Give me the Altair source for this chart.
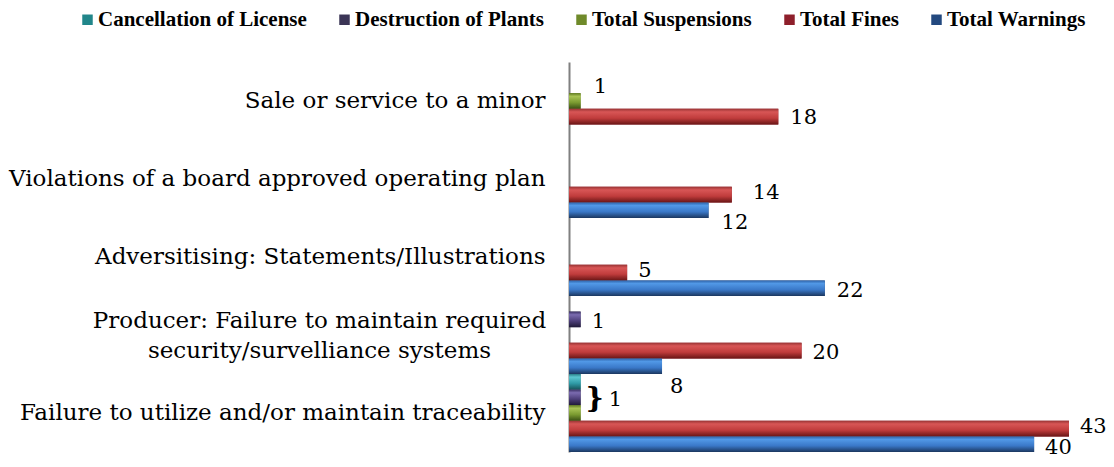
import altair as alt
import pandas as pd

categories = [
    "Sale or service to a minor",
    "Violations of a board approved operating plan",
    "Adversitising: Statements/Illustrations",
    "Producer: Failure to maintain required\nsecurity/survelliance systems",
    "Failure to utilize and/or maintain traceability",
]
series = [
    "Cancellation of License",
    "Destruction of Plants",
    "Total Suspensions",
    "Total Fines",
    "Total Warnings",
]
cancellation = [0, 0, 0, 0, 1]
destruction = [0, 0, 0, 1, 1]
suspensions = [1, 0, 0, 0, 1]
fines = [18, 14, 5, 20, 43]
warnings = [0, 12, 22, 8, 40]

legend_colors = ["#21868a", "#3b3556", "#6f8a2a", "#8e1f2b", "#23497f"]
gradient_stops = [
    ["#2a7f88", "#5cc6d0", "#2f9aa6", "#17535a"],
    ["#3c3266", "#7b6bb0", "#4d3f7a", "#201a38"],
    ["#5f7a20", "#a9c455", "#7a9a30", "#3a5014"],
    ["#9a3434", "#d85656", "#c03c3c", "#6a1616"],
    ["#2d62a8", "#5198e6", "#3a78c8", "#1b375f"],
]

# (category index, series index, dx, dy) for value labels
label_specs = [
    (0, 2, 13, -14),
    (0, 3, 12, 1),
    (1, 3, 21, -2),
    (1, 4, 13, 13),
    (2, 3, 11, -2),
    (2, 4, 12, 3),
    (3, 1, 11, 3),
    (3, 3, 11, 2),
    (3, 4, 8, 21),
    (4, 1, 28, 3),
    (4, 3, 11, -2),
    (4, 4, 11, 4),
]

rows = []
for s, vals in zip(series, [cancellation, destruction, suspensions, fines, warnings]):
    for c, v in zip(categories, vals):
        rows.append({"category": c, "series": s, "value": v})
df = pd.DataFrame(rows)

label_expr = "indexof(datum.label, '\\n') >= 0 ? split(datum.label, '\\n') : datum.label"
multi_test = "indexof(datum.value, 'Producer') == 0"

x_enc = alt.X("value:Q", scale=alt.Scale(domain=[0, 43], nice=False, zero=True), axis=None)
y_enc = alt.Y(
    "category:N",
    sort=categories,
    scale=alt.Scale(paddingInner=0, paddingOuter=0),
    axis=alt.Axis(
        title=None,
        ticks=False,
        domainColor="#808080",
        domainWidth=2,
        labelPadding={"condition": {"test": multi_test, "value": 250}, "value": 24},
        labelAlign={"condition": {"test": multi_test, "value": "center"}, "value": "right"},
        labelOffset={"condition": {"test": multi_test, "value": -14}, "value": 0},
        labelFont="DejaVu Serif",
        labelFontSize=23,
        labelColor="#000000",
        labelLimit=700,
        labelLineHeight=30,
        labelExpr=label_expr,
    ),
)
yoff_enc = alt.YOffset("series:N", sort=series, scale=alt.Scale(paddingInner=0, paddingOuter=0))

base = alt.Chart(df).transform_filter("datum.value > 0")

bars = base.mark_bar().encode(
    x=x_enc,
    y=y_enc,
    yOffset=yoff_enc,
    color=alt.Color(
        "series:N",
        sort=series,
        scale=alt.Scale(domain=series, range=legend_colors),
        legend=alt.Legend(
            orient="none",
            legendX=-492,
            legendY=-53,
            direction="horizontal",
            columns=5,
            title=None,
            symbolType="square",
            symbolSize=110,
            symbolStrokeWidth=0,
            labelFont="Liberation Serif",
            labelFontSize=21,
            labelFontWeight="bold",
            labelColor="#000000",
            labelLimit=400,
            labelOffset=0,
            columnPadding=27,
        ),
    ),
)

layers = [bars]
for i, s in enumerate(series):
    st = gradient_stops[i]
    grad = alt.Gradient(
        gradient="linear",
        x1=0, x2=0, y1=0, y2=1,
        stops=[
            alt.GradientStop(color=st[0], offset=0),
            alt.GradientStop(color=st[1], offset=0.2),
            alt.GradientStop(color=st[2], offset=0.6),
            alt.GradientStop(color=st[3], offset=1),
        ],
    )
    layers.append(
        base.transform_filter(alt.datum.series == s)
        .mark_bar(fill=grad)
        .encode(x=x_enc, y=y_enc, yOffset=yoff_enc)
    )

for ci, si, dx, dy in label_specs:
    layers.append(
        base.transform_filter(
            (alt.datum.category == categories[ci]) & (alt.datum.series == series[si])
        )
        .mark_text(
            align="left",
            baseline="middle",
            dx=dx,
            dy=dy,
            font="DejaVu Serif",
            fontSize=21,
            color="#000000",
        )
        .encode(x=x_enc, y=y_enc, yOffset=yoff_enc, text="value:Q")
    )

# brace grouping the three single-unit bars of the last category
layers.append(
    base.transform_filter(
        (alt.datum.category == categories[4]) & (alt.datum.series == series[1])
    )
    .mark_text(
        text="}",
        align="left",
        baseline="middle",
        dx=5,
        dy=2,
        font="DejaVu Serif",
        fontSize=28,
        fontWeight="bold",
        color="#000000",
    )
    .encode(x=x_enc, y=y_enc, yOffset=yoff_enc)
)

chart = (
    alt.layer(*layers)
    .properties(
        width=500,
        height=390,
        autosize=alt.AutoSizeParams(type="none"),
        padding={"left": 561, "top": 54, "right": 37, "bottom": 7},
    )
    .configure_view(stroke=None)
)

chart.save("out.html", embed_options={"renderer": "svg", "actions": False})
